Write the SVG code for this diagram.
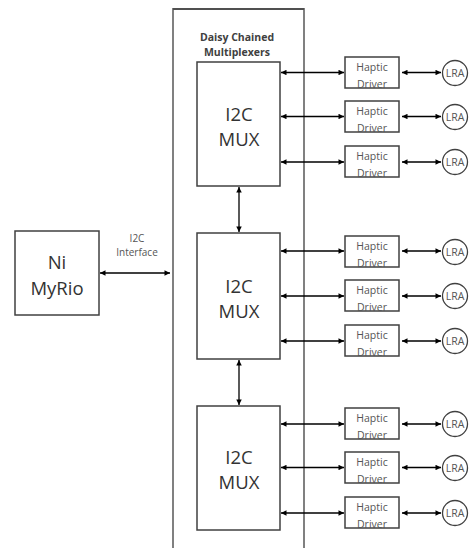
<svg xmlns="http://www.w3.org/2000/svg" width="470" height="548" viewBox="0 0 470 548">
<style>
.box{fill:#fff;stroke:#404040;stroke-width:1.5}
.cont{fill:none;stroke:#808080;stroke-width:2}
.arr{fill:none;stroke:#000;stroke-width:1.3;marker-start:url(#ah);marker-end:url(#ah)}
.big{font-family:"Open Sans","Liberation Sans",sans-serif;font-size:18.5px;fill:#333;text-anchor:middle}
.sm{font-family:"Open Sans","Liberation Sans",sans-serif;font-size:10px;fill:#555;text-anchor:middle}
.hd{font-family:"Open Sans","Liberation Sans",sans-serif;font-size:10.5px;fill:#555;text-anchor:middle}
.ttl{font-family:"Open Sans","Liberation Sans",sans-serif;font-size:10.5px;font-weight:bold;fill:#404040;text-anchor:middle}
.lra{fill:#fff;stroke:#404040;stroke-width:1.3}
</style>
<defs>
<marker id="ah" viewBox="0 0 10 10" refX="10" refY="5" markerWidth="6" markerHeight="5.5" orient="auto-start-reverse" markerUnits="userSpaceOnUse">
<path d="M0,0 L10,5 L0,10 z" fill="#000"/>
</marker>
<g id="drv">
<rect class="box" x="0" y="0" width="54" height="31"/>
<text class="hd" x="27" y="14">Haptic</text>
<text class="hd" x="27" y="30.5">Driver</text>
</g>
<g id="lr">
<circle class="lra" cx="0" cy="0" r="12.5"/>
<text class="hd" x="0" y="4">LRA</text>
</g>
</defs>

<g id="container">
<path class="cont" d="M173,548 V9 H304 V548"/>
<path d="M173,9 H304" stroke="#404040" stroke-width="1.5"/>
<text class="ttl" x="237" y="41">Daisy Chained</text>
<text class="ttl" x="237" y="56">Multiplexers</text>
</g>

<g id="myrio">
<rect class="box" x="15" y="231" width="84" height="84"/>
<text class="big" x="57" y="269">Ni</text>
<text class="big" x="57" y="295">MyRio</text>
</g>

<g id="mux1">
<rect class="box" x="197" y="62" width="83" height="124"/>
<text class="big" x="239" y="121">I2C</text>
<text class="big" x="239" y="146">MUX</text>
</g>
<g id="mux2">
<rect class="box" x="197" y="233" width="83" height="126"/>
<text class="big" x="239" y="293">I2C</text>
<text class="big" x="239" y="318">MUX</text>
</g>
<g id="mux3">
<rect class="box" x="197" y="406" width="83" height="124"/>
<text class="big" x="239" y="464">I2C</text>
<text class="big" x="239" y="489">MUX</text>
</g>

<g id="drivers">
<use href="#drv" x="345" y="57"/>
<use href="#drv" x="345" y="101"/>
<use href="#drv" x="345" y="146"/>
<use href="#drv" x="345" y="236"/>
<use href="#drv" x="345" y="280"/>
<use href="#drv" x="345" y="325"/>
<use href="#drv" x="345" y="408"/>
<use href="#drv" x="345" y="452"/>
<use href="#drv" x="345" y="497"/>
</g>

<g id="lras">
<use href="#lr" x="455" y="73"/>
<use href="#lr" x="455" y="117"/>
<use href="#lr" x="455" y="162"/>
<use href="#lr" x="455" y="252"/>
<use href="#lr" x="455" y="296"/>
<use href="#lr" x="455" y="341"/>
<use href="#lr" x="455" y="424"/>
<use href="#lr" x="455" y="468"/>
<use href="#lr" x="455" y="513"/>
</g>

<g id="connectors">
<line class="arr" x1="100" y1="273" x2="170" y2="273"/>
<text class="sm" x="137" y="242">I2C</text>
<text class="sm" x="137" y="256">Interface</text>
<line class="arr" x1="239" y1="187" x2="239" y2="232"/>
<line class="arr" x1="239" y1="360" x2="239" y2="405"/>
<line class="arr" x1="281" y1="72.5" x2="344" y2="72.5"/>
<line class="arr" x1="281" y1="116.5" x2="344" y2="116.5"/>
<line class="arr" x1="281" y1="162" x2="344" y2="162"/>
<line class="arr" x1="281" y1="251" x2="344" y2="251"/>
<line class="arr" x1="281" y1="296" x2="344" y2="296"/>
<line class="arr" x1="281" y1="341" x2="344" y2="341"/>
<line class="arr" x1="281" y1="424" x2="344" y2="424"/>
<line class="arr" x1="281" y1="467.5" x2="344" y2="467.5"/>
<line class="arr" x1="281" y1="513" x2="344" y2="513"/>
<line class="arr" x1="402" y1="72.5" x2="441" y2="72.5"/>
<line class="arr" x1="402" y1="116.5" x2="441" y2="116.5"/>
<line class="arr" x1="402" y1="162" x2="441" y2="162"/>
<line class="arr" x1="402" y1="251" x2="441" y2="251"/>
<line class="arr" x1="402" y1="296" x2="441" y2="296"/>
<line class="arr" x1="402" y1="341" x2="441" y2="341"/>
<line class="arr" x1="402" y1="424" x2="441" y2="424"/>
<line class="arr" x1="402" y1="467.5" x2="441" y2="467.5"/>
<line class="arr" x1="402" y1="513" x2="441" y2="513"/>
</g>
</svg>
